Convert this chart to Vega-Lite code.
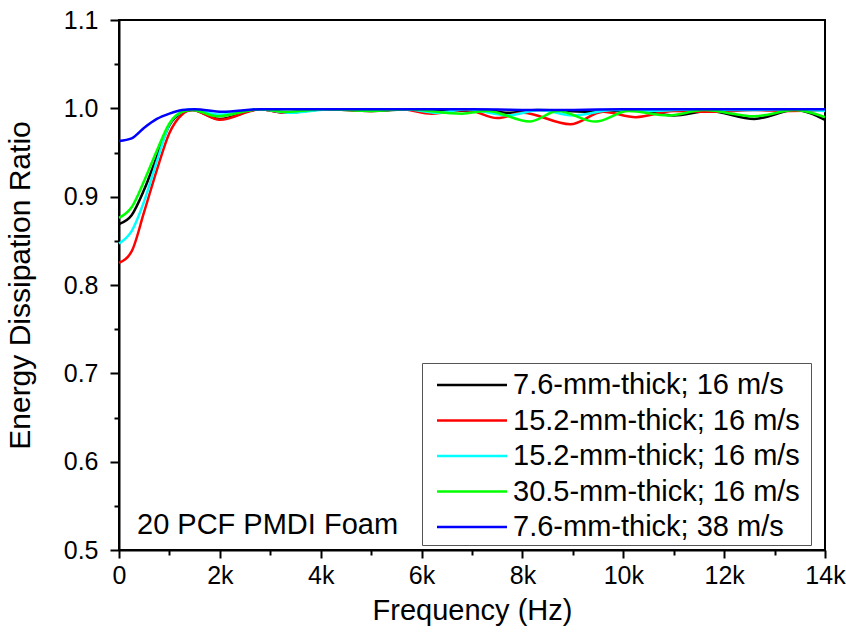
{
  "$schema": "https://vega.github.io/schema/vega-lite/v6.json",
  "autosize": "none",
  "width": 706,
  "height": 530,
  "padding": {"left": 119, "top": 20, "right": 21, "bottom": 87},
  "background": "white",
  "config": {
    "view": {"stroke": "#000", "strokeWidth": 2},
    "font": "Liberation Sans",
    "axis": {"labelFont": "Liberation Sans", "titleFont": "Liberation Sans", "domainColor": "#000", "tickColor": "#000", "labelColor": "#000", "titleColor": "#000", "grid": false, "domainWidth": 2, "tickWidth": 2, "titleFontWeight": "normal"}
  },
  "datasets": {
    "curves": [
      {"s": "1", "f": 0, "r": 0.869}, {"s": "1", "f": 250, "r": 0.879}, {"s": "1", "f": 500, "r": 0.908}, {"s": "1", "f": 750, "r": 0.945}, {"s": "1", "f": 1000, "r": 0.981}, {"s": "1", "f": 1250, "r": 0.995}, {"s": "1", "f": 1450, "r": 0.998}, {"s": "1", "f": 2000, "r": 0.988}, {"s": "1", "f": 2800, "r": 0.999}, {"s": "1", "f": 3300, "r": 0.995}, {"s": "1", "f": 4100, "r": 0.999}, {"s": "1", "f": 5000, "r": 0.997}, {"s": "1", "f": 5800, "r": 0.999}, {"s": "1", "f": 6500, "r": 0.997}, {"s": "1", "f": 7300, "r": 0.998}, {"s": "1", "f": 7700, "r": 0.995}, {"s": "1", "f": 8300, "r": 0.998}, {"s": "1", "f": 9500, "r": 0.996}, {"s": "1", "f": 10200, "r": 0.998}, {"s": "1", "f": 11000, "r": 0.992}, {"s": "1", "f": 11700, "r": 0.997}, {"s": "1", "f": 12600, "r": 0.988}, {"s": "1", "f": 13400, "r": 0.998}, {"s": "1", "f": 14000, "r": 0.987},
      {"s": "2", "f": 0, "r": 0.825}, {"s": "2", "f": 250, "r": 0.838}, {"s": "2", "f": 500, "r": 0.883}, {"s": "2", "f": 750, "r": 0.93}, {"s": "2", "f": 1000, "r": 0.972}, {"s": "2", "f": 1250, "r": 0.993}, {"s": "2", "f": 1450, "r": 0.998}, {"s": "2", "f": 2000, "r": 0.987}, {"s": "2", "f": 2800, "r": 0.999}, {"s": "2", "f": 3300, "r": 0.995}, {"s": "2", "f": 4100, "r": 0.999}, {"s": "2", "f": 5000, "r": 0.997}, {"s": "2", "f": 5600, "r": 0.999}, {"s": "2", "f": 6200, "r": 0.994}, {"s": "2", "f": 6900, "r": 0.998}, {"s": "2", "f": 7500, "r": 0.989}, {"s": "2", "f": 8000, "r": 0.995}, {"s": "2", "f": 8950, "r": 0.982}, {"s": "2", "f": 9600, "r": 0.996}, {"s": "2", "f": 10250, "r": 0.990}, {"s": "2", "f": 11000, "r": 0.997}, {"s": "2", "f": 11800, "r": 0.996}, {"s": "2", "f": 12600, "r": 0.998}, {"s": "2", "f": 13300, "r": 0.997}, {"s": "2", "f": 14000, "r": 0.998},
      {"s": "3", "f": 0, "r": 0.847}, {"s": "3", "f": 250, "r": 0.861}, {"s": "3", "f": 500, "r": 0.895}, {"s": "3", "f": 750, "r": 0.94}, {"s": "3", "f": 1000, "r": 0.982}, {"s": "3", "f": 1250, "r": 0.996}, {"s": "3", "f": 1400, "r": 0.999}, {"s": "3", "f": 2000, "r": 0.993}, {"s": "3", "f": 2800, "r": 0.999}, {"s": "3", "f": 3400, "r": 0.995}, {"s": "3", "f": 4200, "r": 0.999}, {"s": "3", "f": 5000, "r": 0.998}, {"s": "3", "f": 5700, "r": 0.999}, {"s": "3", "f": 6300, "r": 0.995}, {"s": "3", "f": 6900, "r": 0.999}, {"s": "3", "f": 7700, "r": 0.992}, {"s": "3", "f": 8350, "r": 0.998}, {"s": "3", "f": 9000, "r": 0.992}, {"s": "3", "f": 9800, "r": 0.998}, {"s": "3", "f": 10500, "r": 0.997}, {"s": "3", "f": 11500, "r": 0.999}, {"s": "3", "f": 12500, "r": 0.998}, {"s": "3", "f": 13300, "r": 0.999}, {"s": "3", "f": 14000, "r": 0.997},
      {"s": "4", "f": 0, "r": 0.876}, {"s": "4", "f": 250, "r": 0.888}, {"s": "4", "f": 500, "r": 0.918}, {"s": "4", "f": 750, "r": 0.952}, {"s": "4", "f": 1000, "r": 0.983}, {"s": "4", "f": 1250, "r": 0.996}, {"s": "4", "f": 1450, "r": 0.998}, {"s": "4", "f": 1950, "r": 0.991}, {"s": "4", "f": 2800, "r": 0.999}, {"s": "4", "f": 3300, "r": 0.996}, {"s": "4", "f": 4100, "r": 0.999}, {"s": "4", "f": 5000, "r": 0.997}, {"s": "4", "f": 5700, "r": 0.999}, {"s": "4", "f": 6800, "r": 0.994}, {"s": "4", "f": 7300, "r": 0.997}, {"s": "4", "f": 8150, "r": 0.985}, {"s": "4", "f": 8700, "r": 0.997}, {"s": "4", "f": 9450, "r": 0.985}, {"s": "4", "f": 10100, "r": 0.997}, {"s": "4", "f": 10900, "r": 0.992}, {"s": "4", "f": 11600, "r": 0.998}, {"s": "4", "f": 12600, "r": 0.991}, {"s": "4", "f": 13400, "r": 0.998}, {"s": "4", "f": 14000, "r": 0.990},
      {"s": "5", "f": 0, "r": 0.963}, {"s": "5", "f": 250, "r": 0.966}, {"s": "5", "f": 500, "r": 0.978}, {"s": "5", "f": 750, "r": 0.988}, {"s": "5", "f": 1000, "r": 0.994}, {"s": "5", "f": 1250, "r": 0.998}, {"s": "5", "f": 1500, "r": 0.999}, {"s": "5", "f": 2050, "r": 0.996}, {"s": "5", "f": 2800, "r": 0.999}, {"s": "5", "f": 4000, "r": 0.999}, {"s": "5", "f": 5500, "r": 0.999}, {"s": "5", "f": 7000, "r": 0.999}, {"s": "5", "f": 8500, "r": 0.998}, {"s": "5", "f": 10000, "r": 0.999}, {"s": "5", "f": 12000, "r": 0.999}, {"s": "5", "f": 14000, "r": 0.999}
    ]
  },
  "layer": [
    {
      "data": {"name": "curves"},
      "mark": {"type": "line", "interpolate": "monotone", "strokeWidth": 2.5},
      "encoding": {
        "x": {"field": "f", "type": "quantitative", "scale": {"domain": [0, 14000], "nice": false, "zero": false},
          "axis": {"orient": "bottom", "values": [0, 2000, 4000, 6000, 8000, 10000, 12000, 14000], "labelExpr": "datum.value == 0 ? '0' : (datum.value / 1000) + 'k'", "tickSize": 8, "labelPadding": 5, "labelFontSize": 25, "labelFlush": false, "title": "Frequency (Hz)", "titleFontSize": 29, "titlePadding": 8}},
        "y": {"field": "r", "type": "quantitative", "scale": {"domain": [0.5, 1.1], "nice": false, "zero": false},
          "axis": {"orient": "left", "values": [0.5, 0.6, 0.7, 0.8, 0.9, 1.0, 1.1], "format": ".1f", "tickSize": 9, "labelPadding": 12, "labelFontSize": 25, "labelFlush": false, "title": "Energy Dissipation Ratio", "titleFontSize": 30, "titlePadding": 28}},
        "color": {"field": "s", "type": "nominal",
          "scale": {"domain": ["1", "2", "3", "4", "5"], "range": ["#000000", "#ff0000", "#00ffff", "#00ff00", "#0000ff"]},
          "legend": {"title": null, "orient": "none", "legendX": 303, "legendY": 343,
            "labelExpr": "datum.value == '1' ? '7.6-mm-thick; 16 m/s' : datum.value == '2' ? '15.2-mm-thick; 16 m/s\u00a0\u200b' : datum.value == '3' ? '15.2-mm-thick; 16 m/s' : datum.value == '4' ? '30.5-mm-thick; 16 m/s' : '7.6-mm-thick; 38 m/s'",
            "labelFontSize": 29, "labelFont": "Liberation Sans", "labelColor": "#000", "symbolType": "M-2,0H2", "symbolSize": 1225, "symbolStrokeWidth": 2.5, "symbolOffset": 28, "labelOffset": 22, "rowPadding": 1.5, "padding": 3, "strokeColor": "#555", "fillColor": "white", "labelLimit": 500}
        }
      }
    },
    {
      "data": {"values": [{"note": "20 PCF PMDI Foam"}]},
      "mark": {"type": "text", "align": "left", "baseline": "middle", "fontSize": 29, "font": "Liberation Sans", "color": "#000"},
      "encoding": {
        "x": {"datum": 357, "type": "quantitative", "axis": {"orient": "bottom", "values": [1000, 3000, 5000, 7000, 9000, 11000, 13000], "labels": false, "domain": false, "tickSize": 5, "title": null}},
        "y": {"datum": 0.528, "type": "quantitative", "axis": {"orient": "left", "values": [0.55, 0.65, 0.75, 0.85, 0.95, 1.05], "labels": false, "domain": false, "tickSize": 5, "title": null}},
        "text": {"field": "note"}
      }
    }
  ],
  "resolve": {"axis": {"x": "independent", "y": "independent"}}
}
